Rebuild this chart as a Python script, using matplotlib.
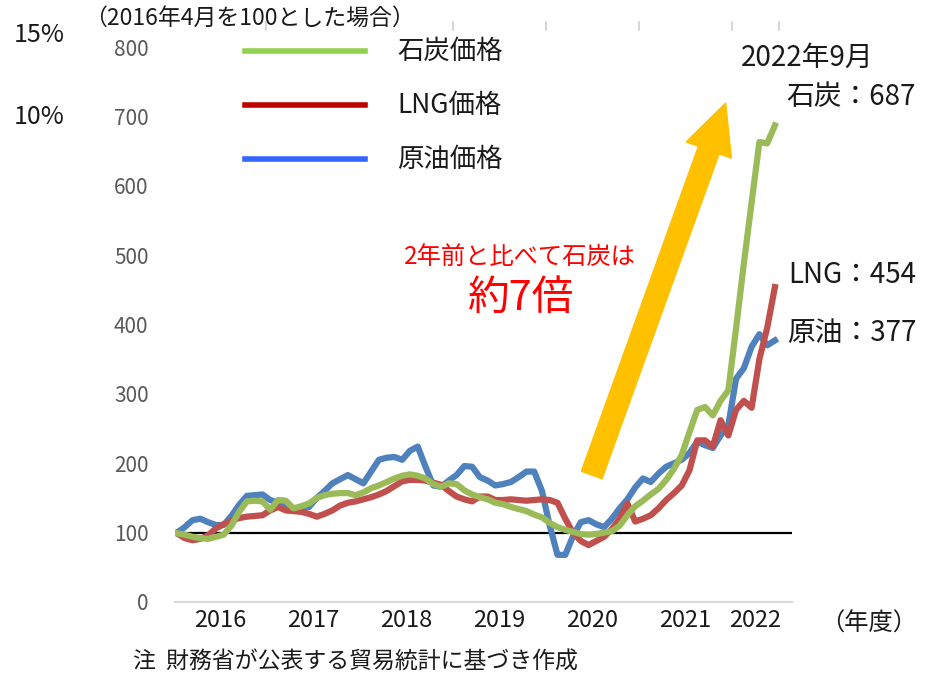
import matplotlib.pyplot as plt
import matplotlib.patches as mpatches
import matplotlib.transforms as mtransforms
import numpy as np

plt.rcParams['font.family'] = ['Noto Sans CJK JP', 'DejaVu Sans']

# monthly index, Apr 2016 = 100 (Apr 2016 .. Sep 2022)
coal = [99, 97, 94, 92, 91, 94, 97, 110, 130, 145, 146, 145,
        133, 147, 146, 135, 138, 142, 150, 154, 156, 157, 157, 154,
        158, 164, 168, 173, 178, 182, 184, 182, 178, 170, 166, 171,
        170, 161, 155, 151, 148, 143, 141, 137, 134, 131, 126, 122,
        114, 108, 104, 101, 98, 97, 98, 100, 102, 110, 125, 138,
        146, 155, 163, 176, 192, 212, 245, 277, 281, 269, 290, 305,
        395, 488, 576, 663, 661, 687]
lng = [99, 92, 89, 91, 96, 106, 112, 117, 121, 123, 124, 125,
       132, 137, 132, 131, 130, 127, 123, 127, 132, 139, 143, 145,
       148, 151, 155, 160, 167, 174, 176, 176, 175, 172, 169, 160,
       152, 148, 145, 152, 152, 147, 147, 148, 147, 146, 147, 148,
       147, 143, 120, 100, 88, 82, 88, 94, 105, 120, 142, 116,
       120, 125, 135, 147, 157, 168, 190, 233, 233, 224, 262, 240,
       277, 290, 280, 350, 395, 454]
oil = [100, 108, 118, 120, 115, 111, 111, 124, 140, 153, 154, 155,
       147, 143, 138, 134, 136, 137, 150, 160, 171, 177, 183, 177,
       171, 188, 205, 208, 209, 205, 218, 224, 195, 168, 166, 175,
       183, 196, 195, 180, 175, 168, 170, 173, 180, 188, 188, 160,
       110, 68, 68, 95, 115, 118, 112, 108, 120, 135, 148, 165,
       178, 173, 185, 195, 200, 205, 215, 231, 226, 222, 240, 255,
       322, 337, 368, 386, 370, 377]

fy_labels = ['2016', '2017', '2018', '2019', '2020', '2021', '2022']
y_ticks = [0, 100, 200, 300, 400, 500, 600, 700, 800]

x = np.arange(len(coal))

fig = plt.figure(figsize=(9.32, 6.75), dpi=100)
ax = fig.add_axes([175 / 932, 73 / 675, 617 / 932, 555 / 675])

ax.axhline(100, xmin=0.003, xmax=1.0, color='black', lw=1.6, zorder=2)
ax.plot(x, oil, color='#4F81BD', lw=4.5, solid_joinstyle='round', zorder=3)
ax.plot(x, lng, color='#C0504D', lw=4.5, solid_joinstyle='round', zorder=4)
ax.plot(x, coal, color='#9BBB59', lw=4.5, solid_joinstyle='round', zorder=5)

ax.set_xlim(-0.26, 79.2)
ax.set_ylim(0, 800)
ax.set_yticks(y_ticks)
ax.set_yticklabels([str(v) for v in y_ticks], color='#595959', fontsize=15)
ax.tick_params(axis='y', length=0, pad=19)

# fiscal year labels centred on each fiscal year (Apr-Mar)
starts = np.arange(0, len(coal), 12)
centers = [min(s + 11, len(coal) - 1) / 2 + s / 2 for s in starts]
ax.set_xticks(centers)
ax.set_xticklabels(fy_labels, fontsize=17, color='#1a1a1a')
ax.tick_params(axis='x', length=0, pad=5)

for s in ['top', 'right', 'left']:
    ax.spines[s].set_visible(False)
ax.spines['bottom'].set_color('#d9d9d9')
ax.spines['bottom'].set_linewidth(1.5)

# faint boundary marks at the top (one is hidden under the unit note)
bounds = list(starts[1:] - 0.5) + [len(coal) - 0.5]
trans = mtransforms.blended_transform_factory(ax.transData, fig.transFigure)
for b in bounds[:1] + bounds[2:]:
    ax.plot([b, b], [1 - 22 / 675, 1 - 30 / 675], color='#d0d0d0', lw=1.2,
            transform=trans, clip_on=False, zorder=0)

# legend drawn by hand
leg = [('石炭価格', '#92D050'), ('LNG価格', '#C00000'), ('原油価格', '#3366FF')]
for k, (name, col) in enumerate(leg):
    yy = 1 - (51 + 54 * k) / 675
    fig.add_artist(plt.Line2D([245 / 932, 365 / 932], [yy, yy], color=col, lw=4,
                              transform=fig.transFigure))
    fig.text(397 / 932, yy, name, fontsize=19, va='center', ha='left', color='#1a1a1a')

fig.text(84 / 932, 1 - 18 / 675, '（2016年4月を100とした場合）', fontsize=16.5,
         va='center', ha='left', color='#1a1a1a')
fig.text(14 / 932, 1 - 35 / 675, '15%', fontsize=18, va='center', ha='left', color='#1a1a1a')
fig.text(14 / 932, 1 - 117 / 675, '10%', fontsize=18, va='center', ha='left', color='#1a1a1a')

fig.text(741 / 932, 1 - 58 / 675, '2022年9月', fontsize=20, va='center', ha='left', color='#1a1a1a')
fig.text(916 / 932, 1 - 97 / 675, '石炭：687', fontsize=20, va='center', ha='right', color='#1a1a1a')
fig.text(916 / 932, 1 - 275 / 675, 'LNG：454', fontsize=20, va='center', ha='right', color='#1a1a1a')
fig.text(916 / 932, 1 - 333 / 675, '原油：377', fontsize=20, va='center', ha='right', color='#1a1a1a')

fig.text(520 / 932, 1 - 257 / 675, '2年前と比べて石炭は', fontsize=17.5, va='center', ha='center',
         color='#FF0000')
fig.text(521 / 932, 1 - 298 / 675, '約7倍', fontsize=30, va='center', ha='center', color='#FF0000')

fig.text(820 / 932, 1 - 624 / 675, '（年度）', fontsize=17.5, va='center', ha='left', color='#1a1a1a')
fig.text(133 / 932, 1 - 662 / 675, '注  財務省が公表する貿易統計に基づき作成', fontsize=16.5,
         va='center', ha='left', color='#1a1a1a')

# big orange arrow (inches, dpi 100)
arrow = mpatches.FancyArrow(5.917, 2.0, 1.34, 3.72, width=0.22, head_width=0.48,
                            head_length=0.5, length_includes_head=True,
                            color='#FFC000', transform=fig.dpi_scale_trans, zorder=6)
fig.add_artist(arrow)

plt.savefig('out.png', dpi=100)
plt.close()
